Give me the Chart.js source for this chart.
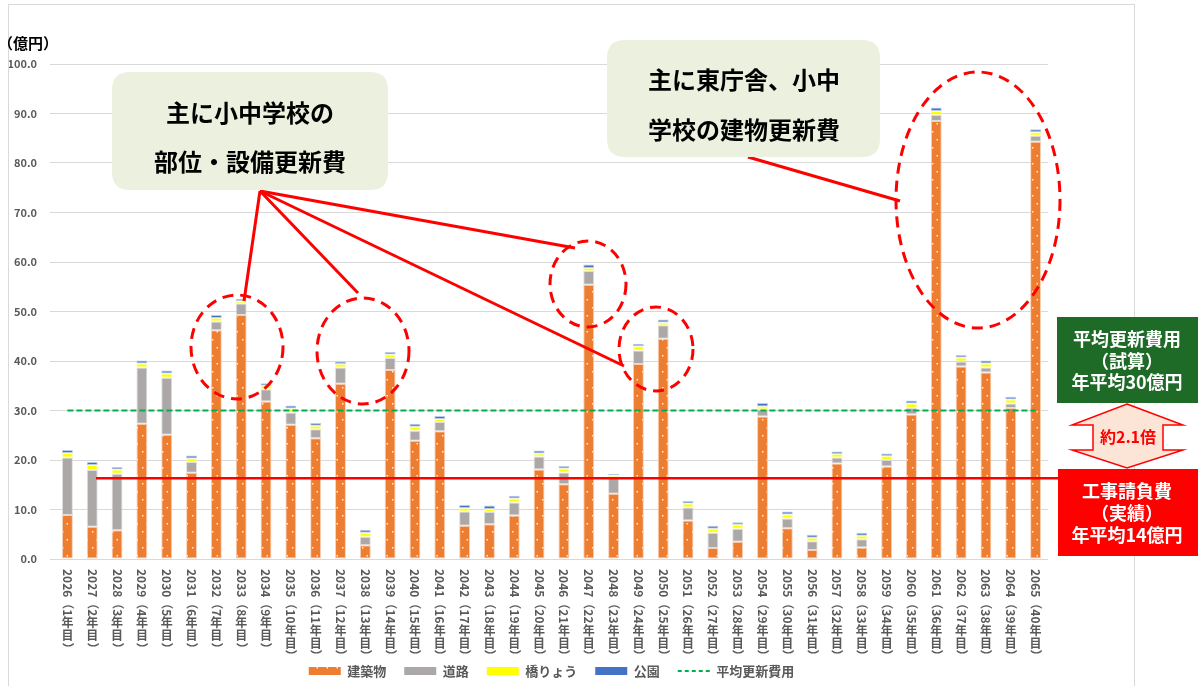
<!DOCTYPE html>
<html>
<head>
<meta charset="utf-8">
<script src="https://cdn.jsdelivr.net/npm/chart.js@4"></script>
<style>
html,body{margin:0;padding:0;background:#fff;}
canvas{display:block;}
</style>
</head>
<body>
<canvas id="c" width="1199" height="686"></canvas>
<script>
// ---- data ----
const categories = [
  '2026（1年目）','2027（2年目）','2028（3年目）','2029（4年目）','2030（5年目）',
  '2031（6年目）','2032（7年目）','2033（8年目）','2034（9年目）','2035（10年目）',
  '2036（11年目）','2037（12年目）','2038（13年目）','2039（14年目）','2040（15年目）',
  '2041（16年目）','2042（17年目）','2043（18年目）','2044（19年目）','2045（20年目）',
  '2046（21年目）','2047（22年目）','2048（23年目）','2049（24年目）','2050（25年目）',
  '2051（26年目）','2052（27年目）','2053（28年目）','2054（29年目）','2055（30年目）',
  '2056（31年目）','2057（32年目）','2058（33年目）','2059（34年目）','2060（35年目）',
  '2061（36年目）','2062（37年目）','2063（38年目）','2064（39年目）','2065（40年目）'
];
const building = [8.9,6.5,5.8,27.3,25.1,17.4,46.2,49.3,31.8,27.1,24.4,35.4,2.8,38.2,23.9,25.8,6.7,7.0,8.8,18.1,15.1,55.4,13.2,39.4,44.5,7.8,2.2,3.5,28.8,6.2,1.8,19.3,2.3,18.7,29.2,88.5,38.9,37.7,30.5,84.3];
const road     = [11.6,11.5,11.4,11.4,11.5,2.2,1.8,2.3,2.5,2.5,1.8,3.3,1.7,2.4,2.0,1.9,2.9,2.5,2.6,2.6,2.4,2.8,3.3,2.7,2.7,2.6,3.1,2.6,1.4,2.0,1.8,1.2,1.7,1.3,1.3,1.2,1.0,1.0,0.9,1.2];
const bridge   = [0.9,1.0,0.9,0.8,0.9,0.7,0.7,0.5,0.7,0.8,0.7,0.7,0.8,0.7,0.8,0.6,0.7,0.6,0.8,0.6,0.8,0.6,0.4,0.9,0.6,0.8,0.8,0.8,0.6,0.8,0.7,0.7,0.7,0.8,0.9,0.8,0.8,0.8,0.8,0.7];
const park     = [0.6,0.6,0.5,0.6,0.6,0.6,0.6,0.5,0.5,0.6,0.6,0.5,0.6,0.5,0.6,0.6,0.6,0.7,0.6,0.6,0.5,0.7,0.3,0.5,0.6,0.5,0.6,0.5,0.7,0.6,0.6,0.5,0.6,0.5,0.6,0.7,0.5,0.6,0.6,0.6];
const averageLine = [30,30,30,30,30,30,30,30,30,30,30,30,30,30,30,30,30,30,30,30,30,30,30,30,30,30,30,30,30,30,30,30,30,30,30,30,30,30,30,30];
const seriesNames = ['建築物','道路','橋りょう','公園','平均更新費用'];
const yTicks = [0,10,20,30,40,50,60,70,80,90,100];
const contractAverageValue = 16.3; // red line level (工事請負費 実績)

const FONT = '"Noto Sans CJK JP", "Noto Sans", sans-serif';
Chart.defaults.font.family = FONT;

function dotPattern() {
  const c = document.createElement('canvas');
  c.width = 10; c.height = 16;
  const g = c.getContext('2d');
  g.fillStyle = '#ED7D31'; g.fillRect(0, 0, 10, 16);
  g.fillStyle = 'rgba(255,255,255,0.85)';
  g.fillRect(2, 3, 1.5, 1.5);
  g.fillRect(6.5, 11, 1.5, 1.5);
  return g.createPattern(c, 'repeat');
}
const orangeFill = dotPattern();

// custom vertical x labels (CJK upright, others rotated)
const xLabelPlugin = {
  id: 'xLabels',
  afterDraw(chart) {
    const {ctx, scales: {x}} = chart;
    ctx.save();
    ctx.fillStyle = '#595959';
    ctx.font = 'bold 12px ' + FONT;
    categories.forEach((label, i) => {
      const cx = x.getPixelForValue(i);
      let y = chart.chartArea.bottom + 10;
      for (const ch of label) {
        if (/[\u3040-\u30ff\u4e00-\u9fff]/.test(ch)) {
          ctx.textAlign = 'center'; ctx.textBaseline = 'middle';
          ctx.fillText(ch, cx, y + 6.5);
          y += 13;
        } else {
          const w = ctx.measureText(ch).width;
          ctx.save();
          ctx.translate(cx, y);
          ctx.rotate(Math.PI / 2);
          ctx.textAlign = 'left'; ctx.textBaseline = 'middle';
          ctx.fillText(ch, 0, 0);
          ctx.restore();
          y += w;
        }
      }
    });
    ctx.restore();
  }
};

function roundRect(ctx, x, y, w, h, r) {
  ctx.beginPath();
  ctx.moveTo(x + r, y);
  ctx.lineTo(x + w - r, y); ctx.quadraticCurveTo(x + w, y, x + w, y + r);
  ctx.lineTo(x + w, y + h - r); ctx.quadraticCurveTo(x + w, y + h, x + w - r, y + h);
  ctx.lineTo(x + r, y + h); ctx.quadraticCurveTo(x, y + h, x, y + h - r);
  ctx.lineTo(x, y + r); ctx.quadraticCurveTo(x, y, x + r, y);
  ctx.closePath();
}

const annotationPlugin = {
  id: 'annotations',
  afterDraw(chart) {
    const {ctx, scales: {y}} = chart;
    ctx.save();
    // chart border
    ctx.strokeStyle = '#D9D9D9'; ctx.lineWidth = 1;
    ctx.strokeRect(8.5, 4.5, 1126, 720);
    // y axis unit
    ctx.fillStyle = '#000'; ctx.font = 'bold 15px ' + FONT;
    ctx.textAlign = 'left'; ctx.textBaseline = 'middle';
    ctx.fillText('（億円）', -2, 43);

    // red solid line (工事請負費 average)
    const ry = y.getPixelForValue(contractAverageValue);
    ctx.strokeStyle = '#FF0000'; ctx.lineWidth = 2.5; ctx.setLineDash([]);
    ctx.beginPath(); ctx.moveTo(96, ry); ctx.lineTo(1058, ry); ctx.stroke();

    // dashed ellipses
    ctx.lineWidth = 3; ctx.setLineDash([11, 7]);
    [[237,347,46,52],[363,351,46,53],[588,284,38,43],[656,349,37,42],[978,200,82,128]].forEach(e => {
      ctx.beginPath(); ctx.ellipse(e[0], e[1], e[2], e[3], 0, 0, Math.PI * 2); ctx.stroke();
    });
    // pointer lines
    ctx.setLineDash([]); ctx.lineWidth = 3;
    [[244,301],[358,293],[575,248],[624,366]].forEach(p => {
      ctx.beginPath(); ctx.moveTo(260, 191); ctx.lineTo(p[0], p[1]); ctx.stroke();
    });
    ctx.beginPath(); ctx.moveTo(748, 157); ctx.lineTo(900, 201); ctx.stroke();

    // callout boxes
    ctx.fillStyle = '#ECF1DF';
    roundRect(ctx, 112, 72, 276, 118, 18); ctx.fill();
    roundRect(ctx, 607, 40, 273, 117, 18); ctx.fill();
    ctx.fillStyle = '#000'; ctx.font = 'bold 24px ' + FONT;
    ctx.textAlign = 'center'; ctx.textBaseline = 'middle';
    ctx.fillText('主に小中学校の', 250, 113);
    ctx.fillText('部位・設備更新費', 250, 162);
    ctx.fillText('主に東庁舎、小中', 744, 80);
    ctx.fillText('学校の建物更新費', 744, 130);

    // right side boxes
    ctx.fillStyle = '#1E6B28';
    ctx.fillRect(1057, 317, 141, 86);
    ctx.fillStyle = '#FF0000';
    ctx.fillRect(1058, 469, 140, 87);
    ctx.fillStyle = '#fff'; ctx.font = 'bold 18px ' + FONT;
    ctx.fillText('平均更新費用', 1127, 339);
    ctx.fillText('（試算）', 1127, 361);
    ctx.fillText('年平均30億円', 1127, 382);
    ctx.fillText('工事請負費', 1127, 491);
    ctx.fillText('（実績）', 1127, 513);
    ctx.fillText('年平均14億円', 1127, 535);

    // double arrow
    ctx.beginPath();
    ctx.moveTo(1127, 404);
    ctx.lineTo(1183, 425); ctx.lineTo(1163, 425); ctx.lineTo(1163, 450);
    ctx.lineTo(1183, 450); ctx.lineTo(1127, 468); ctx.lineTo(1072, 450);
    ctx.lineTo(1093, 450); ctx.lineTo(1093, 425); ctx.lineTo(1072, 425);
    ctx.closePath();
    ctx.fillStyle = '#FCE4D6'; ctx.fill();
    ctx.strokeStyle = '#FF0000'; ctx.lineWidth = 1.5; ctx.stroke();
    ctx.fillStyle = '#FF0000'; ctx.font = 'bold 16px ' + FONT;
    ctx.fillText('約2.1倍', 1128, 437);
    ctx.restore();
  }
};

const barCommon = { type: 'bar', stack: 'total', barPercentage: 0.44, categoryPercentage: 1.0, borderWidth: 1, borderSkipped: false };

new Chart(document.getElementById('c'), {
  data: {
    labels: categories,
    datasets: [
      { ...barCommon, label: seriesNames[0], data: building, backgroundColor: orangeFill, borderColor: 'rgba(248,203,173,0.9)' },
      { ...barCommon, label: seriesNames[1], data: road, backgroundColor: '#ABA8A7', borderColor: 'rgba(220,218,218,0.9)' },
      { ...barCommon, label: seriesNames[2], data: bridge, backgroundColor: '#FFFF00', borderColor: 'rgba(255,255,160,0.9)' },
      { ...barCommon, label: seriesNames[3], data: park, backgroundColor: '#4472C4', borderColor: 'rgba(180,199,231,0.9)' },
      { type: 'line', stack: 'avg', order: -1, label: seriesNames[4], data: averageLine, borderColor: '#00B050', backgroundColor: '#00B050', borderWidth: 2, borderDash: [6, 3], pointRadius: 0, fill: false }
    ]
  },
  options: {
    responsive: false,
    animation: false,
    layout: { padding: { top: 64, right: 151, left: 0, bottom: -1.5 } },
    scales: {
      x: {
        stacked: true,
        grid: { display: false },
        border: { display: false },
        ticks: { display: false },
        afterFit(s) { s.height = 87.5; }
      },
      y: {
        stacked: true, min: 0, max: 100,
        afterBuildTicks(s) { s.ticks = yTicks.map(v => ({ value: v })); },
        grid: { color: '#D9D9D9', tickLength: 5, lineWidth: 1 },
        border: { display: false },
        ticks: { color: '#595959', font: { size: 11, weight: 'bold' }, padding: 13, callback: v => Number(v).toFixed(1) },
        afterFit(s) { s.width = 55; }
      }
    },
    plugins: {
      tooltip: { enabled: false },
      legend: {
        position: 'bottom', fullSize: false,
        labels: {
          usePointStyle: true, pointStyleWidth: 32, boxHeight: 8, padding: 18,
          color: '#595959', font: { size: 13, weight: 'bold' },
          sort: (a, b) => a.datasetIndex - b.datasetIndex,
          generateLabels(chart) {
            const items = Chart.defaults.plugins.legend.labels.generateLabels(chart);
            items.forEach(it => {
              const ds = chart.data.datasets[it.datasetIndex];
              if (ds.type === 'line') {
                it.pointStyle = 'line'; it.strokeStyle = ds.borderColor; it.lineWidth = 2; it.lineDash = [4, 3];
              } else {
                it.pointStyle = 'rect'; it.lineWidth = 0; it.fillStyle = ds.backgroundColor; it.lineDash = [];
              }
            });
            return items;
          }
        }
      }
    }
  },
  plugins: [xLabelPlugin, annotationPlugin]
});
</script>
</body>
</html>
